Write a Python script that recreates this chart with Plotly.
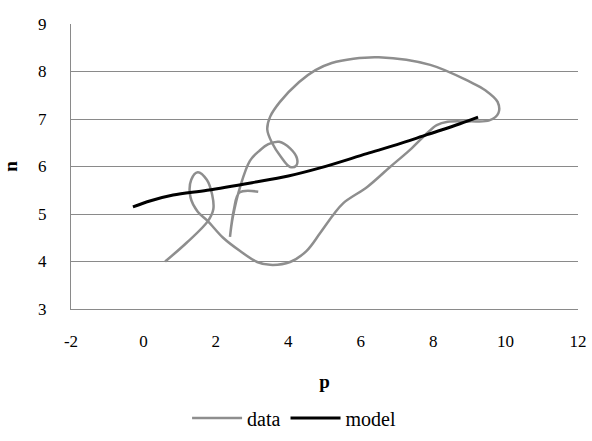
import plotly.graph_objects as go

# data curve (p, n) in drawing order
data_p = [0.6, 1.2, 1.78, 1.93, 1.9, 1.75, 1.5, 1.32, 1.3, 1.5, 1.78, 2.2, 2.67, 3.14, 3.5,
          4.05, 4.5, 4.88, 5.24, 5.52, 6.18, 6.81, 7.36, 7.83, 8.1, 8.4, 9.0, 9.55, 9.8,
          9.78, 9.45, 9.02, 7.92, 6.5, 5.8, 5.2, 4.75, 4.3, 3.77, 3.5, 3.42, 3.55, 3.8,
          4.05, 4.22, 4.24, 4.05, 3.75, 3.45, 3.2, 2.94, 2.67, 2.47, 2.39, 2.5, 2.65, 3.17]
data_n = [4.0, 4.4, 4.85, 5.1, 5.4, 5.72, 5.88, 5.72, 5.35, 5.05, 4.85, 4.5, 4.22, 3.99, 3.93,
          3.99, 4.22, 4.6, 4.98, 5.23, 5.57, 5.99, 6.35, 6.7, 6.87, 6.94, 6.95, 6.97, 7.12,
          7.36, 7.6, 7.78, 8.14, 8.3, 8.27, 8.18, 8.03, 7.78, 7.36, 7.05, 6.78, 6.5, 6.2,
          5.99, 6.02, 6.17, 6.38, 6.52, 6.47, 6.33, 6.12, 5.57, 4.94, 4.52, 5.1, 5.45, 5.47]

# model curve
model_p = [-0.29, 0.2, 0.82, 1.76, 3.0, 4.0, 4.88, 6.17, 7.0, 7.83, 8.74, 9.24]
model_n = [5.15, 5.28, 5.4, 5.5, 5.66, 5.8, 5.97, 6.27, 6.46, 6.67, 6.9, 7.04]

x_ticks = [-2, 0, 2, 4, 6, 8, 10, 12]
x_labels = ["-2", "0", "2", "4", "6", "8", "10", "12"]
y_ticks = [3, 4, 5, 6, 7, 8, 9]

FONT = "Liberation Serif"
GRID = "#8a8a8a"

fig = go.Figure()
fig.add_trace(go.Scatter(x=data_p, y=data_n, mode="lines", name="data",
                         line=dict(color="#8e8e8e", width=2.5, shape="spline", smoothing=1.0)))
fig.add_trace(go.Scatter(x=model_p, y=model_n, mode="lines", name="model",
                         line=dict(color="#000000", width=3, shape="spline", smoothing=1.0)))

fig.update_layout(
    width=592, height=441,
    margin=dict(l=71, r=14, t=24, b=132, autoexpand=False),
    paper_bgcolor="white", plot_bgcolor="white",
    font=dict(family=FONT, size=17, color="#000000"),
    showlegend=True,
    legend=dict(orientation="h", x=0.44, xanchor="center", y=-0.3825, yanchor="middle",
                font=dict(family=FONT, size=20), tracegroupgap=0, itemwidth=50),
    xaxis=dict(range=[-2, 12], tickvals=x_ticks, ticktext=x_labels, showgrid=False,
               zeroline=False, showline=True, linecolor=GRID, linewidth=1, ticks="",
               ticklabelstandoff=17, tickfont=dict(family=FONT, size=17),
               title=dict(text="<b>p</b>", font=dict(family=FONT, size=19), standoff=24)),
    yaxis=dict(range=[3, 9], tickvals=y_ticks, showgrid=True, gridcolor=GRID, gridwidth=1,
               zeroline=False, showline=True, linecolor=GRID, linewidth=1,
               ticks="", ticklabelstandoff=20, tickfont=dict(family=FONT, size=17),
               title=dict(text="<b>n</b>", font=dict(family=FONT, size=19), standoff=22)),
)

fig.write_html("out.html")
